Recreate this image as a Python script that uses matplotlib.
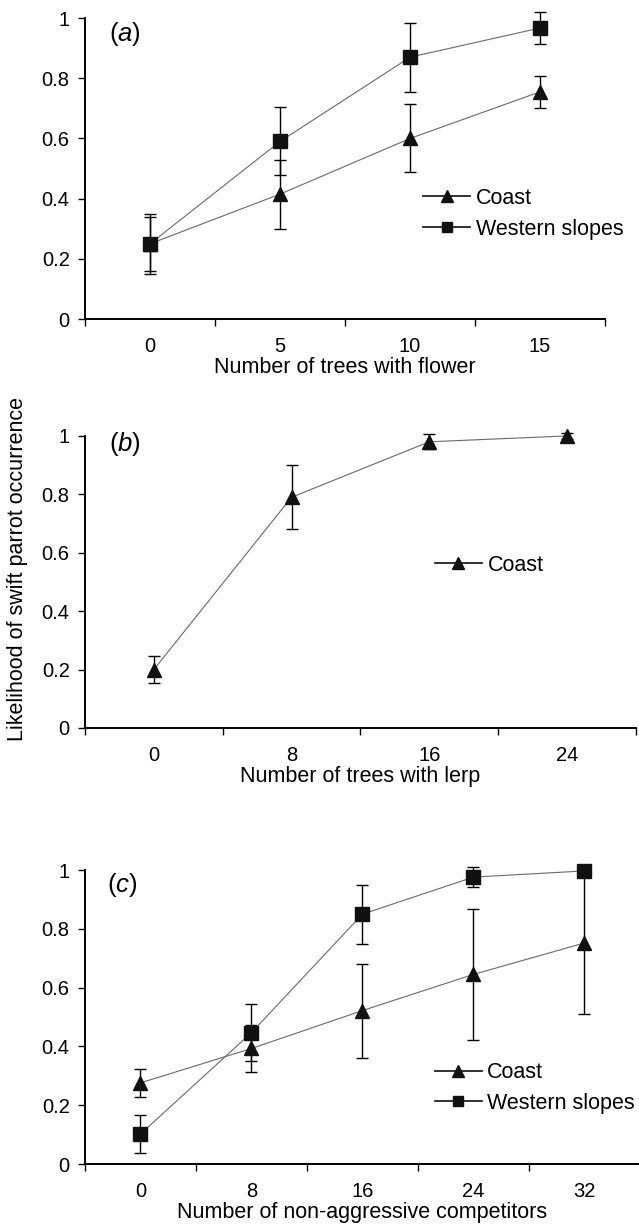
import matplotlib.pyplot as plt
import numpy as np
from matplotlib.lines import Line2D
from matplotlib.ticker import FuncFormatter

plt.rcParams['font.family'] = ['Liberation Sans', 'DejaVu Sans']
plt.rcParams['mathtext.fontset'] = 'custom'
plt.rcParams['mathtext.rm'] = 'Liberation Sans'
plt.rcParams['mathtext.it'] = 'Liberation Sans:italic'

# panel (a) - trees with flower
a_labels = ['0', '5', '10', '15']
a_coast = [0.25, 0.415, 0.60, 0.755]
a_coast_err = [0.09, 0.115, 0.113, 0.053]
a_west = [0.25, 0.59, 0.87, 0.967]
a_west_err = [0.10, 0.113, 0.115, 0.053]

# panel (b) - trees with lerp
b_labels = ['0', '8', '16', '24']
b_coast = [0.20, 0.79, 0.98, 1.0]
b_coast_err = [0.045, 0.11, 0.025, 0.01]

# panel (c) - non-aggressive competitors
c_labels = ['0', '8', '16', '24', '32']
c_coast = [0.276, 0.393, 0.522, 0.645, 0.752]
c_coast_err = [0.048, 0.08, 0.16, 0.222, 0.24]
c_west = [0.102, 0.447, 0.85, 0.976, 0.997]
c_west_err = [0.066, 0.096, 0.10, 0.034, 0.01]

TICK_FS = 14.5
LAB_FS = 15.5
LINE_COL = '#6a6a6a'

coast_handle = Line2D([], [], color='#222222', lw=1.3, marker='^', ms=8,
                      mfc='#111111', mec='#111111')
west_handle = Line2D([], [], color='#222222', lw=1.3, marker='s', ms=6.5,
                     mfc='#111111', mec='#111111')


def series(ax, y, err, marker, ms):
    x = np.arange(len(y))
    eb = ax.errorbar(x, y, yerr=err, fmt='none', ecolor='black', elinewidth=1.0,
                     capsize=4.5, capthick=1.0, zorder=2)
    for art in eb.lines[1] + eb.lines[2]:
        art.set_clip_on(False)
    ax.plot(x, y, color=LINE_COL, lw=0.8, marker=marker, ms=ms, mfc='#111111',
            mec='#111111', clip_on=False, zorder=3)


def setup(ax, labels, xlabel, tag, tag_x, tag_y):
    n = len(labels)
    ax.set_xlim(-0.5, n - 0.5)
    ax.set_ylim(0, 1)
    for s in ['top', 'right']:
        ax.spines[s].set_visible(False)
    for s in ['left', 'bottom']:
        ax.spines[s].set_linewidth(1.4)
    ax.set_xticks(np.arange(n + 1) - 0.5)
    ax.set_xticklabels([])
    ax.set_xticks(np.arange(n), minor=True)
    ax.set_xticklabels(labels, minor=True)
    ax.tick_params(axis='x', which='major', direction='out', length=5, width=1)
    ax.tick_params(axis='x', which='minor', length=0, pad=13, labelsize=TICK_FS)
    ax.set_yticks(np.arange(0, 1.01, 0.2))
    ax.yaxis.set_major_formatter(FuncFormatter(lambda v, p: '%g' % round(v, 1)))
    ax.tick_params(axis='y', direction='out', length=5, width=1, pad=6, labelsize=TICK_FS)
    ax.set_xlabel(xlabel, fontsize=LAB_FS, labelpad=1)
    ax.text(tag_x, tag_y, '($\\mathit{' + tag + '}$)', transform=ax.transAxes,
            fontsize=18.5, va='center', ha='left')


def legend(ax, handles, labels, x, y):
    ax.legend(handles, labels, loc='center left', bbox_to_anchor=(x, y), frameon=False,
              fontsize=LAB_FS, handlelength=2.2, handletextpad=0.25, labelspacing=0.45,
              borderpad=0, borderaxespad=0)


fig = plt.figure(figsize=(6.39, 12.28), dpi=100)

ax1 = fig.add_axes([0.133, 0.7402, 0.814, 0.2451])
series(ax1, a_coast, a_coast_err, '^', 10)
series(ax1, a_west, a_west_err, 's', 9.5)
setup(ax1, a_labels, 'Number of trees with flower', 'a', 0.046, 0.947)
legend(ax1, [coast_handle, west_handle], ['Coast', 'Western slopes'], 0.65, 0.35)

ax2 = fig.add_axes([0.133, 0.4072, 0.862, 0.2378])
series(ax2, b_coast, b_coast_err, '^', 10)
setup(ax2, b_labels, 'Number of trees with lerp', 'b', 0.043, 0.972)
legend(ax2, [coast_handle], ['Coast'], 0.635, 0.558)

ax3 = fig.add_axes([0.133, 0.0521, 0.8685, 0.2394])
series(ax3, c_coast, c_coast_err, '^', 10)
series(ax3, c_west, c_west_err, 's', 9.5)
setup(ax3, c_labels, 'Number of non-aggressive competitors', 'c', 0.04, 0.949)
legend(ax3, [coast_handle, west_handle], ['Coast', 'Western slopes'], 0.63, 0.258)

fig.text(0.028, 0.537, 'Likelihood of swift parrot occurrence', rotation=90,
         fontsize=LAB_FS, ha='center', va='center')

fig.savefig('out.png', dpi=100)
